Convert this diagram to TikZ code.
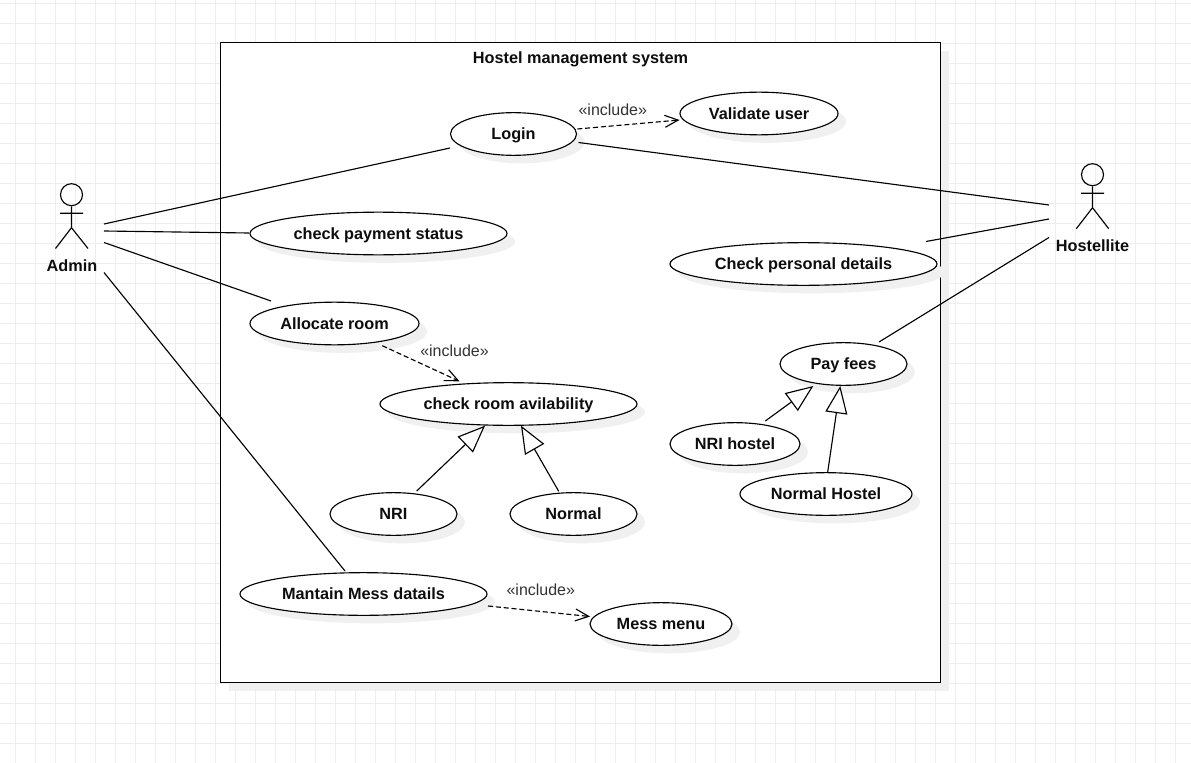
\documentclass[tikz,border=0pt]{standalone}
\usepackage{fontspec}
\setmainfont{Liberation Sans}
\usetikzlibrary{shapes.geometric,shadows,arrows.meta}
\definecolor{gridc}{HTML}{EEEEEE}
\definecolor{shadowc}{HTML}{F0F0F0}
\definecolor{incc}{HTML}{333333}
\tikzset{
  boldfont/.style={font=\bfseries\fontsize{12.2pt}{14pt}\selectfont,text=black!95,text height=11pt,text depth=2.5pt},
  uc/.style={ellipse,draw=black,fill=white,inner sep=0pt,boldfont,
    general shadow={shadow xshift=6pt,shadow yshift=-6pt,fill=shadowc,draw=none}},
  sysbox/.style={rectangle,draw=black,fill=white,inner sep=0pt,
    general shadow={shadow xshift=6pt,shadow yshift=-6pt,fill=shadowc,draw=none}},
  lab/.style={inner sep=0pt,boldfont},
  inc/.style={inner sep=0pt,font=\fontsize{12pt}{14pt}\selectfont,text=incc,text height=11pt,text depth=2.5pt},
  assoc/.style={draw=black},
  incl/.style={draw=black,dash pattern=on 3.8pt off 2.1pt,-{Straight Barb[length=10pt,width=9pt]}},
  gener/.style={draw=black,-{Triangle[open,length=20.5pt,width=16.5pt,fill=white]}},
}
\begin{document}
\begin{tikzpicture}[x=0.75pt,y=-0.75pt,line width=0.85pt]
\useasboundingbox (0,0) rectangle (1191,763);
% grid
\foreach \gx in {15.5,35.5,...,1190}{\draw[gridc,line width=1.1pt] (\gx,0) -- (\gx,763);}
\foreach \gy in {3.5,23.5,...,762}{\draw[gridc,line width=1.1pt] (0,\gy) -- (1191,\gy);}
% system
\node[sysbox,minimum width=540pt,minimum height=480.2pt] (sys) at (580.5,362.7) {};
\node[lab] (title) at (580.5,58) {Hostel management system};
% use cases
\node[uc,minimum width=94.5pt,minimum height=32pt] (login) at (513.5,134) {Login};
\node[uc,minimum width=118.5pt,minimum height=32pt] (validate) at (759,113.5) {Validate user};
\node[uc,minimum width=192.75pt,minimum height=32pt] (payment) at (378.5,233.5) {check payment status};
\node[uc,minimum width=200.25pt,minimum height=32pt] (personal) at (803.5,264) {Check personal details};
\node[uc,minimum width=126.75pt,minimum height=32pt] (allocate) at (334.5,323.5) {Allocate room};
\node[uc,minimum width=192.75pt,minimum height=32pt] (avail) at (508.5,404) {check room avilability};
\node[uc,minimum width=95.25pt,minimum height=32pt] (nri) at (393.5,514) {NRI};
\node[uc,minimum width=95.25pt,minimum height=32pt] (normal) at (573.5,514) {Normal};
\node[uc,minimum width=185.25pt,minimum height=32pt] (mess) at (363.5,594) {Mantain Mess datails};
\node[uc,minimum width=106.5pt,minimum height=32pt] (menu) at (661,624) {Mess menu};
\node[uc,minimum width=95.25pt,minimum height=32pt] (pay) at (843.5,364) {Pay fees};
\node[uc,minimum width=97.5pt,minimum height=32pt] (nrih) at (735,444) {NRI hostel};
\node[uc,minimum width=129pt,minimum height=32pt] (normh) at (826,494) {Normal Hostel};
% actors
\node[circle,draw=black,fill=none,inner sep=0pt,minimum size=16.5pt] (adminhead) at (71.5,194.7) {};
\coordinate (adminhip) at (71.5,227.7);
\coordinate (adminarml) at (60,213.3);
\coordinate (adminarmr) at (83,213.3);
\coordinate (adminlegl) at (55.5,248.5);
\coordinate (adminlegr) at (88,248.5);
\draw (adminhead.south) -- (adminhip) (adminarml) -- (adminarmr) (adminlegl) -- (adminhip) -- (adminlegr);
\node[lab] (admin) at (72,266) {Admin};
\node[circle,draw=black,fill=none,inner sep=0pt,minimum size=16.5pt] (hosthead) at (1092.5,174.7) {};
\coordinate (hosthip) at (1092.5,207.7);
\coordinate (hostarml) at (1081,193.3);
\coordinate (hostarmr) at (1104,193.3);
\coordinate (hostlegl) at (1076.3,228.7);
\coordinate (hostlegr) at (1108.7,228.7);
\draw (hosthead.south) -- (hosthip) (hostarml) -- (hostarmr) (hostlegl) -- (hosthip) -- (hostlegr);
\node[lab] (hostel) at (1092.5,246) {Hostellite};
% connector ends
\coordinate (a1) at (104,224); \coordinate (a1e) at (450,148);
\coordinate (a2) at (104,231); \coordinate (a2e) at (249,233);
\coordinate (a3) at (104,242.5); \coordinate (a3e) at (271,301);
\coordinate (a4) at (104,272.5); \coordinate (a4e) at (345,571);
\coordinate (h1) at (1049,205); \coordinate (h1e) at (578.5,142.5);
\coordinate (h2) at (1049,219); \coordinate (h2e) at (926,241.5);
\coordinate (h3) at (1049,237.5); \coordinate (h3e) at (879,342);
\draw[assoc] (a1) -- (a1e);
\draw[assoc] (a2) -- (a2e);
\draw[assoc] (a3) -- (a3e);
\draw[assoc] (a4) -- (a4e);
\draw[assoc] (h1) -- (h1e);
\draw[assoc] (h2) -- (h2e);
\draw[assoc] (h3) -- (h3e);
% include
\coordinate (i1s) at (577.3,129); \coordinate (i1e) at (679.5,120);
\coordinate (i2s) at (382.3,345.7); \coordinate (i2e) at (459.5,381.3);
\coordinate (i3s) at (488,606); \coordinate (i3e) at (590,616.5);
\draw[incl] (i1s) -- (i1e);
\draw[incl] (i2s) -- (i2e);
\draw[incl] (i3s) -- (i3e);
\node[inc] (il1) at (612.8,110.3) {«include»};
\node[inc] (il2) at (454.5,351) {«include»};
\node[inc] (il3) at (540.8,590.3) {«include»};
% generalisation
\coordinate (g1s) at (416.7,491); \coordinate (g1e) at (485,425.7);
\coordinate (g2s) at (558.7,491.3); \coordinate (g2e) at (521,425.7);
\coordinate (g3s) at (765.3,421); \coordinate (g3e) at (813.3,386);
\coordinate (g4s) at (827.7,472); \coordinate (g4e) at (840.3,386);
\draw[gener] (g1s) -- (g1e);
\draw[gener] (g2s) -- (g2e);
\draw[gener] (g3s) -- (g3e);
\draw[gener] (g4s) -- (g4e);
\end{tikzpicture}
\end{document}
